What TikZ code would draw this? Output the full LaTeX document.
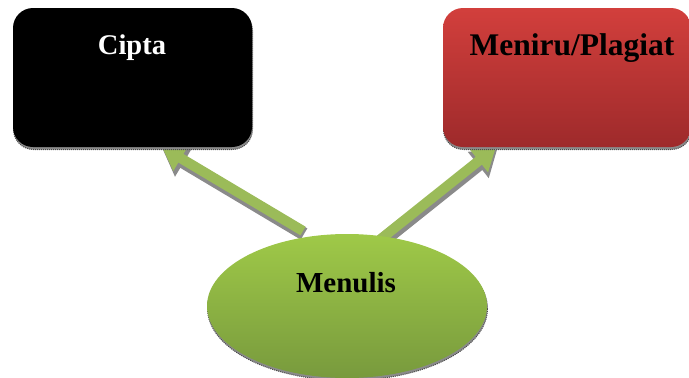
\documentclass[tikz,border=0pt]{standalone}
\usepackage{fontspec}
\setmainfont{Liberation Serif}
\usetikzlibrary{arrows.meta,shapes.geometric}
\definecolor{agreen}{HTML}{9BBB59}
\definecolor{etop}{HTML}{9FC948}
\definecolor{ebot}{HTML}{789A3D}
\definecolor{rtop}{HTML}{D23F3C}
\definecolor{rbot}{HTML}{9E2A2B}
\definecolor{shad}{HTML}{8A8A8A}
\begin{document}
\begin{tikzpicture}[x=1pt,y=-1pt,
  boxstyle/.style={rectangle, rounded corners=20pt, minimum width=#1, minimum height=139pt, inner sep=0pt},
  ellstyle/.style={ellipse, minimum width=280pt, minimum height=144pt, inner sep=0pt},
  shadowstyle/.style={fill=shad, draw=black!70, densely dotted, line width=1pt},
  arrowstyle/.style={draw=agreen, line width=10pt, -{Triangle[width=28pt,length=22pt]}},
  arrowshadow/.style={draw=shad, line width=13pt, -{Triangle[width=32pt,length=24pt]}},
  lbl/.style={font=\bfseries, anchor=base, inner sep=0pt}]
\useasboundingbox (0,0) rectangle (689,378);
\begin{scope}
\clip (0,0) rectangle (689,378);
% coordinates
\coordinate (la) at (303,231);
\coordinate (lb) at (162,147);
\coordinate (ra) at (377,242);
\coordinate (rb) at (496,147);
\coordinate (las) at (304,234);
\coordinate (lbs) at (163,150);
\coordinate (ras) at (378,245);
\coordinate (rbs) at (497,150);
% arrow shadows
\draw[arrowshadow] (las) -- (lbs);
\draw[arrowshadow] (ras) -- (rbs);
% arrows
\draw[arrowstyle] (la) -- (lb);
\draw[arrowstyle] (ra) -- (rb);
% shape shadows
\node[boxstyle=239pt, shadowstyle] (ciptaS) at (133,80) {};
\node[boxstyle=248pt, shadowstyle] (meniruS) at (567.5,80) {};
\node[ellstyle, shadowstyle] (menulisS) at (347.5,308.5) {};
% shapes
\node[boxstyle=239pt, fill=black] (cipta) at (132.5,77.5) {};
\node[boxstyle=248pt, top color=rtop, bottom color=rbot] (meniru) at (567,77.5) {};
\node[ellstyle, top color=etop, bottom color=ebot] (menulis) at (347,306) {};
\node[lbl, text=white, font=\bfseries\fontsize{28.5}{34}\selectfont] (ciptaT) at (132,54) {Cipta};
\node[lbl, font=\bfseries\fontsize{31.5}{38}\selectfont] (meniruT) at (572,55) {Meniru/Plagiat};
\node[lbl, font=\bfseries\fontsize{29}{35}\selectfont] (menulisT) at (346,292) {Menulis};
\end{scope}
\end{tikzpicture}
\end{document}
